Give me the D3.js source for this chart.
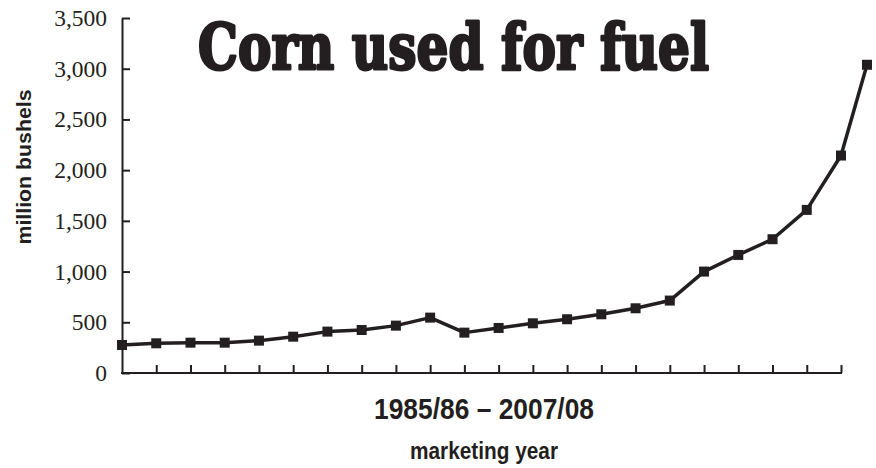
<!DOCTYPE html>
<html>
<head>
<meta charset="utf-8">
<script src="https://d3js.org/d3.v7.min.js"></script>
<style>
  body { margin: 0; background: #fff; }
  svg { display: block; }
</style>
</head>
<body>
<svg width="876" height="468"></svg>
<script>
// marketing years 1985/86 .. 2007/08
var years = ["1985/86","1986/87","1987/88","1988/89","1989/90","1990/91","1991/92",
  "1992/93","1993/94","1994/95","1995/96","1996/97","1997/98","1998/99","1999/00",
  "2000/01","2001/02","2002/03","2003/04","2004/05","2005/06","2006/07","2007/08"];
// corn used for fuel, million bushels
var bushels = [276, 293, 299, 299, 319, 358, 408, 424, 467, 546, 398, 444, 490,
  530, 579, 638, 714, 1000, 1164, 1319, 1608, 2144, 3039];
var yTicks = [0, 500, 1000, 1500, 2000, 2500, 3000, 3500];

var ink = "#231f20";
var svg = d3.select("svg");

// the last point sits closer than the others in the picture
var x = d3.scaleLinear()
  .domain([0, years.length - 2, years.length - 1])
  .range([122, 841, 867]);
var y = d3.scaleLinear().domain([0, 3500]).range([373, 18]);

// y axis
var yAxis = svg.append("g")
  .attr("transform", "translate(" + x(0) + ",0)")
  .call(d3.axisLeft(y).tickValues(yTicks).tickSizeInner(-8).tickSizeOuter(0)
    .tickPadding(15).tickFormat(d3.format(",")));
yAxis.select(".domain").attr("stroke", ink).attr("stroke-width", 2);
yAxis.selectAll(".tick line").attr("stroke", ink).attr("stroke-width", 2);
yAxis.selectAll(".tick text")
  .attr("fill", ink)
  .attr("font-family", "'Liberation Serif', 'Times New Roman', serif")
  .attr("font-size", "23.5px");

// x axis
var xAxis = svg.append("g")
  .attr("transform", "translate(0," + y(0) + ")")
  .call(d3.axisBottom(x).tickValues(d3.range(1, years.length - 1))
    .tickSizeInner(-8).tickSizeOuter(0).tickFormat(""));
xAxis.select(".domain").remove();
xAxis.selectAll(".tick line").attr("stroke", ink).attr("stroke-width", 2);
xAxis.append("line")
  .attr("x1", x(0) - 1).attr("x2", x(years.length - 2) + 1)
  .attr("stroke", ink).attr("stroke-width", 2);

// line + markers
var line = d3.line()
  .x(function(d, i) { return x(i); })
  .y(function(d) { return y(d); });

svg.append("path")
  .datum(bushels)
  .attr("d", line)
  .attr("fill", "none")
  .attr("stroke", ink)
  .attr("stroke-width", 3.5)
  .attr("stroke-linejoin", "round");

svg.selectAll(".pt")
  .data(bushels)
  .enter().append("rect")
  .attr("class", "pt")
  .attr("x", function(d, i) { return x(i) - 5; })
  .attr("y", function(d) { return y(d) - 5; })
  .attr("width", 10)
  .attr("height", 10)
  .attr("fill", ink);

// title, heavy slab serif
svg.append("text")
  .attr("x", 198).attr("y", 69)
  .attr("textLength", 511)
  .attr("lengthAdjust", "spacingAndGlyphs")
  .attr("font-family", "'DejaVu Serif', serif")
  .attr("font-weight", "bold")
  .attr("font-size", "64px")
  .attr("fill", ink)
  .attr("stroke", ink)
  .attr("stroke-width", 3)
  .attr("stroke-linejoin", "round")
  .text("Corn used for fuel");

// axis labels
var sans = "'Liberation Sans Narrow', 'Liberation Sans', Arial, sans-serif";
svg.append("text")
  .attr("transform", "translate(31,167) rotate(-90)")
  .attr("text-anchor", "middle")
  .attr("textLength", 155)
  .attr("lengthAdjust", "spacingAndGlyphs")
  .attr("font-family", sans)
  .attr("font-weight", "bold")
  .attr("font-size", "20px")
  .attr("fill", ink)
  .text("million bushels");

svg.append("text")
  .attr("x", 484).attr("y", 419)
  .attr("text-anchor", "middle")
  .attr("textLength", 220)
  .attr("lengthAdjust", "spacingAndGlyphs")
  .attr("font-family", sans)
  .attr("font-weight", "bold")
  .attr("font-size", "29px")
  .attr("fill", ink)
  .text(years[0] + " \u2013 " + years[years.length - 1]);

svg.append("text")
  .attr("x", 484).attr("y", 459)
  .attr("text-anchor", "middle")
  .attr("textLength", 148)
  .attr("lengthAdjust", "spacingAndGlyphs")
  .attr("font-family", sans)
  .attr("font-weight", "bold")
  .attr("font-size", "23px")
  .attr("fill", ink)
  .text("marketing year");
</script>
</body>
</html>
